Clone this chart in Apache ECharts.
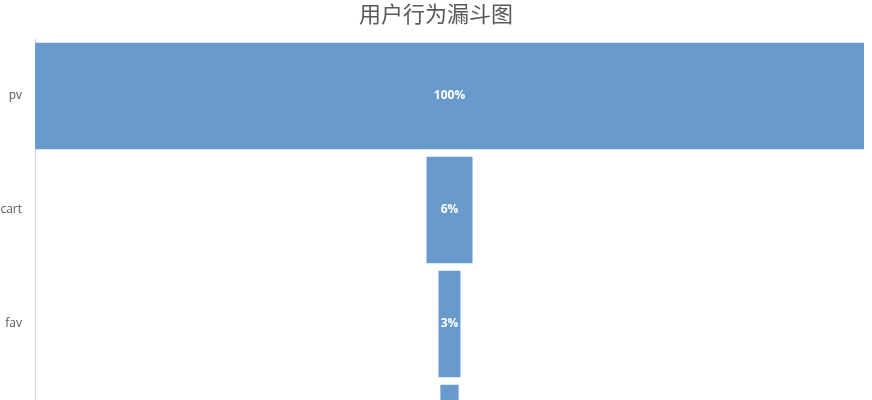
<!DOCTYPE html>
<html>
<head>
<meta charset="utf-8">
<script src="https://cdn.jsdelivr.net/npm/echarts@6/dist/echarts.min.js"></script>
<style>
html, body { margin: 0; padding: 0; background: #fff; overflow: hidden; }
/* 图表比窗口高，底部一行被窗口裁掉 */
#main { width: 872px; height: 500px; }
</style>
</head>
<body>
<div id="main"></div>
<script>
// 漏斗数据 (百分比, 以pv为100)
var categories = ['pv', 'cart', 'fav', 'buy'];
var rates = [100, 5.55, 2.65, 2.2];
var labels = ['100%', '6%', '3%', '2%'];

// 透明占位，让柱子居中
var offsets = rates.map(function (v) { return (100 - v) / 2; });

var chart = echarts.init(document.getElementById('main'));

var option = {
    animation: false,
    title: {
        text: '用户行为漏斗图',
        left: 'center',
        top: -2,
        textStyle: {
            fontFamily: 'Noto Sans CJK SC',
            fontSize: 22,
            fontWeight: 'normal',
            color: '#595959'
        }
    },
    grid: {
        left: 35,
        right: 8,
        top: 39,
        bottom: 5,
        outerBoundsMode: 'none'
    },
    xAxis: {
        type: 'value',
        min: 0,
        max: 100,
        show: false
    },
    yAxis: {
        type: 'category',
        inverse: true,
        data: categories,
        axisLine: { lineStyle: { color: '#d9d9d9', width: 1 } },
        axisTick: { show: false },
        axisLabel: {
            color: '#595959',
            fontSize: 12,
            fontFamily: 'Open Sans',
            margin: 13
        }
    },
    series: [
        {
            name: 'offset',
            type: 'bar',
            stack: 'funnel',
            data: offsets,
            itemStyle: { color: 'transparent' },
            barCategoryGap: '6.5%',
            silent: true
        },
        {
            name: 'rate',
            type: 'bar',
            stack: 'funnel',
            data: rates,
            barCategoryGap: '6.5%',
            itemStyle: { color: '#689acd' },
            label: {
                show: true,
                position: 'inside',
                color: '#fff',
                fontSize: 12,
                fontWeight: 'bold',
                fontFamily: 'Open Sans',
                formatter: function (p) { return labels[p.dataIndex]; }
            }
        }
    ]
};

chart.setOption(option);
</script>
</body>
</html>
